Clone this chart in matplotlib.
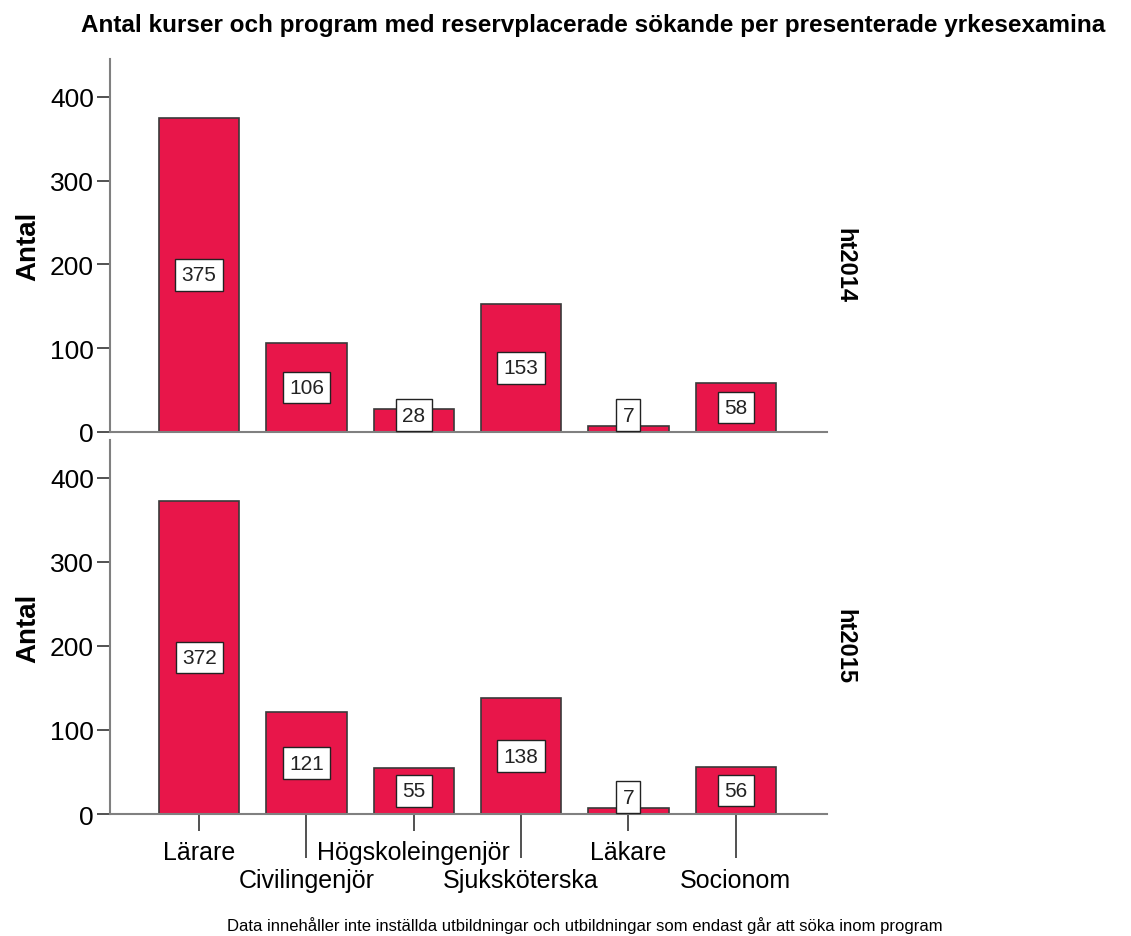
import matplotlib
matplotlib.use('Agg')
import matplotlib.pyplot as plt

plt.rcParams['font.family'] = ['Liberation Sans', 'DejaVu Sans']

categories = ['Lärare', 'Civilingenjör', 'Högskoleingenjör', 'Sjuksköterska', 'Läkare', 'Socionom']
ht2014 = [375, 106, 28, 153, 7, 58]
ht2015 = [372, 121, 55, 138, 7, 56]
panels = ['ht2014', 'ht2015']
yticks = [0, 100, 200, 300, 400]

bar_color = '#E8164A'
edge_color = '#3a3a3a'
axis_color = '#808080'

fig = plt.figure(figsize=(11.31, 9.37), dpi=100)
ax1 = fig.add_axes([0.0973, 0.5379, 0.6339, 0.3981])
ax2 = fig.add_axes([0.0973, 0.1302, 0.6339, 0.3991])

x = list(range(len(categories)))

for ax, vals, name in zip([ax1, ax2], [ht2014, ht2015], panels):
    ax.bar(x, vals, width=0.75, color=bar_color, edgecolor=edge_color, linewidth=1.2, zorder=2)
    for xi, v in zip(x, vals):
        ax.text(xi, max(v / 2, 20), str(v), ha='center', va='center', fontsize=15,
                color='#222222', zorder=3,
                bbox=dict(boxstyle='square,pad=0.3', facecolor='white', edgecolor='#222222', linewidth=1))
    ax.set_xlim(-0.83, 5.85)
    ax.set_ylim(0, 445)
    ax.set_yticks(yticks)
    ax.tick_params(axis='y', direction='out', length=9.5, width=1.2, color='#333333',
                   labelsize=19, pad=2)
    for s in ['top', 'right']:
        ax.spines[s].set_visible(False)
    ax.spines['left'].set_color(axis_color)
    ax.spines['bottom'].set_color(axis_color)
    ax.spines['left'].set_linewidth(1.5)
    ax.spines['bottom'].set_linewidth(1.5)
    ax.set_ylabel('Antal', fontsize=20, fontweight='bold', labelpad=6)
    ax.text(1.025, 0.45, name, transform=ax.transAxes, rotation=-90, ha='center', va='center',
            fontsize=17, fontweight='bold')

ax1.set_xticks([])

# alternating tick lengths for category labels
ax2.set_xticks([0, 2, 4])
ax2.set_xticklabels([categories[i] for i in [0, 2, 4]])
ax2.set_xticks([1, 3, 5], minor=True)
ax2.set_xticklabels([categories[i] for i in [1, 3, 5]], minor=True)
ax2.tick_params(axis='x', which='major', length=12, width=1.2, color='#333333', labelsize=18, pad=7)
ax2.tick_params(axis='x', which='minor', length=32, width=1.2, color='#333333', labelsize=18, pad=7)

fig.text(0.524, 0.973, 'Antal kurser och program med reservplacerade sökande per presenterade yrkesexamina',
         ha='center', va='center', fontsize=17.5, fontweight='bold')
fig.text(0.517, 0.012, 'Data innehåller inte inställda utbildningar och utbildningar som endast går att söka inom program',
         ha='center', va='center', fontsize=12)

fig.savefig('out.png', dpi=100)
